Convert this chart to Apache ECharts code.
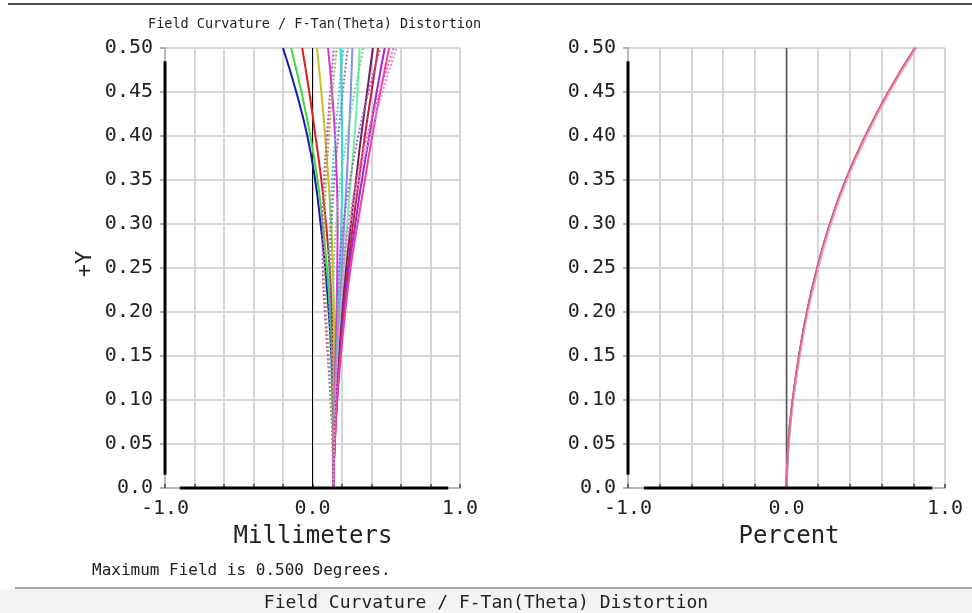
<!DOCTYPE html>
<html><head><meta charset="utf-8">
<script src="https://cdn.jsdelivr.net/npm/echarts@6.0.0/dist/echarts.min.js"></script>
<style>html,body{margin:0;padding:0;background:#fff}#c{width:972px;height:613px}</style>
</head><body><div id="c"></div>
<script>
// ---- data ----
const fieldY = [0, 0.05, 0.10, 0.15, 0.20, 0.25, 0.30, 0.35, 0.40, 0.45, 0.50];
// sagittal (solid) field curvature, mm
const sBlue      = [0.14, 0.140, 0.137, 0.128, 0.110, 0.086, 0.055, 0.018, -0.035, -0.110, -0.200];
const sGreen     = [0.14, 0.141, 0.139, 0.134, 0.120, 0.098, 0.070, 0.034, -0.015, -0.075, -0.145];
const sRed       = [0.14, 0.142, 0.142, 0.139, 0.131, 0.116, 0.092, 0.060, 0.020, -0.022, -0.070];
const sOlive     = [0.14, 0.143, 0.146, 0.147, 0.145, 0.138, 0.126, 0.108, 0.086, 0.060, 0.030];
const sMagenta   = [0.14, 0.145, 0.151, 0.157, 0.163, 0.168, 0.170, 0.165, 0.153, 0.133, 0.105];
const sCyan      = [0.14, 0.146, 0.155, 0.165, 0.175, 0.186, 0.195, 0.200, 0.200, 0.197, 0.190];
const sLavender  = [0.14, 0.147, 0.158, 0.172, 0.186, 0.200, 0.215, 0.232, 0.246, 0.260, 0.270];
const sLtGreen   = [0.14, 0.148, 0.160, 0.176, 0.193, 0.212, 0.235, 0.260, 0.285, 0.305, 0.320];
const sDkPurple  = [0.14, 0.149, 0.163, 0.181, 0.202, 0.228, 0.260, 0.295, 0.330, 0.370, 0.410];
const sCrimson   = [0.14, 0.150, 0.165, 0.185, 0.208, 0.240, 0.275, 0.315, 0.355, 0.400, 0.445];
const sPurpleMag = [0.14, 0.150, 0.166, 0.188, 0.214, 0.248, 0.290, 0.335, 0.385, 0.435, 0.490];
const sPink      = [0.14, 0.151, 0.168, 0.192, 0.222, 0.258, 0.305, 0.355, 0.405, 0.460, 0.520];
// tangential (dotted) field curvature, mm
const tMagenta   = [0.14, 0.135, 0.122, 0.103, 0.083, 0.070, 0.068, 0.078, 0.098, 0.120, 0.145];
const tOlive     = [0.14, 0.136, 0.126, 0.110, 0.093, 0.082, 0.082, 0.092, 0.112, 0.135, 0.165];
const tCyan      = [0.14, 0.138, 0.132, 0.123, 0.115, 0.112, 0.118, 0.132, 0.155, 0.180, 0.210];
const tLavender  = [0.14, 0.139, 0.135, 0.128, 0.122, 0.122, 0.130, 0.148, 0.175, 0.205, 0.240];
const tGreen     = [0.14, 0.141, 0.141, 0.140, 0.140, 0.145, 0.160, 0.190, 0.235, 0.285, 0.345];
const tPurple    = [0.14, 0.143, 0.148, 0.155, 0.165, 0.180, 0.210, 0.255, 0.310, 0.380, 0.460];
const tPink      = [0.14, 0.145, 0.152, 0.163, 0.180, 0.205, 0.245, 0.300, 0.370, 0.455, 0.550];
const tPink2     = [0.14, 0.146, 0.155, 0.168, 0.187, 0.215, 0.255, 0.315, 0.390, 0.475, 0.570];
// F-Tan(Theta) distortion, percent
const distDark  = [0, 0.012, 0.040, 0.080, 0.130, 0.195, 0.275, 0.375, 0.500, 0.645, 0.815];
const distPink  = [0, 0.011, 0.038, 0.078, 0.128, 0.192, 0.272, 0.372, 0.495, 0.640, 0.808];
const distLight = [0, 0.013, 0.042, 0.083, 0.134, 0.200, 0.280, 0.380, 0.505, 0.650, 0.820];
// axes
const xLabelValues = [-1, 0, 1];
const xAxisDarkSpan = [-0.9, 0.92];
const yAxisDarkSpan = [0.015, 0.485];
const zeroLineY = [0, 0.5];

// ---- build ----
const pair = xs => xs.map((x, i) => [x, fieldY[i]]);
const solidSet = [
  [sBlue, '#1a1aa8'], [sGreen, '#3cdc3c'], [sRed, '#d82020'], [sOlive, '#c8c020'],
  [sMagenta, '#d830d8'], [sCyan, '#30d8e0'], [sLavender, '#8a8af0'], [sLtGreen, '#70f0a0'],
  [sDkPurple, '#702060'], [sCrimson, '#c82040'], [sPurpleMag, '#9a28d8'], [sPink, '#f0409a']
];
const dottedSet = [
  [tMagenta, '#c050c0'], [tOlive, '#a8a850'], [tCyan, '#40c8d8'], [tLavender, '#8080a8'],
  [tGreen, '#70d890'], [tPurple, '#a060c8'], [tPink, '#f060a8'], [tPink2, '#e088e0']
];
const series = [];
series.push({type:'line', xAxisIndex:0, yAxisIndex:0, data: zeroLineY.map(y => [0, y]),
  symbol:'none', silent:true, lineStyle:{color:'#000', width:1}, z:1});
series.push({type:'line', xAxisIndex:1, yAxisIndex:1, data: zeroLineY.map(y => [0, y]),
  symbol:'none', silent:true, lineStyle:{color:'#555', width:1.5}, z:1});
solidSet.forEach(([d, c]) => series.push({type:'line', xAxisIndex:0, yAxisIndex:0, data: pair(d),
  smooth:true, symbol:'none', lineStyle:{color:c, width:2}, z:3}));
dottedSet.forEach(([d, c]) => series.push({type:'line', xAxisIndex:0, yAxisIndex:0, data: pair(d),
  smooth:true, symbol:'none', lineStyle:{color:c, width:2, type:[2,2]}, z:4}));
[[distDark, '#505068', 2.4], [distLight, '#f0a8b8', 2.2], [distPink, '#e0607e', 1.6]].forEach(([d, c, w]) =>
  series.push({type:'line', xAxisIndex:1, yAxisIndex:1, data: pair(d), smooth:true, symbol:'none',
  lineStyle:{color:c, width:w}, z:3}));
[0, 1].forEach(k => {
  series.push({type:'line', xAxisIndex:k, yAxisIndex:k, data: xAxisDarkSpan.map(x => [x, 0]),
    symbol:'none', clip:false, silent:true, lineStyle:{color:'#000', width:3}, z:10});
  series.push({type:'line', xAxisIndex:k, yAxisIndex:k, data: yAxisDarkSpan.map(y => [-1, y]),
    symbol:'none', clip:false, silent:true, lineStyle:{color:'#000', width:3}, z:10});
});

const tickFont = {fontFamily:'DejaVu Sans Mono', fontSize:20, color:'#222'};
const mkX = i => ({type:'value', gridIndex:i, min:-1, max:1, interval:0.2,
  axisLine:{show:true, onZero:false, lineStyle:{color:'#b8b8b8', width:2}},
  axisTick:{show:true, inside:true, length:4, lineStyle:{color:'#444', width:1.5}},
  splitLine:{show:true, lineStyle:{color:'#d6d6d6', width:2}},
  axisLabel:Object.assign({margin:11, showMinLabel:true, showMaxLabel:true,
    formatter: v => xLabelValues.some(t => Math.abs(t - v) < 1e-9) ? v.toFixed(1) : ''}, tickFont)});
const mkY = i => ({type:'value', gridIndex:i, min:0, max:0.5, interval:0.05,
  axisLine:{show:true, onZero:false, lineStyle:{color:'#b8b8b8', width:2}},
  axisTick:{show:true, inside:false, length:5, lineStyle:{color:'#999', width:1.5}},
  splitLine:{show:true, lineStyle:{color:'#d6d6d6', width:2}},
  axisLabel:Object.assign({margin:12, showMinLabel:true, showMaxLabel:true,
    formatter: v => Math.abs(v) < 1e-9 ? '0.0' : v.toFixed(2)}, tickFont)});

const txt = (x, y, s, size, align, extra) => ({type:'text', x, y, style:Object.assign({text:s,
  fontFamily:'DejaVu Sans Mono', fontSize:size, fill:'#222', textAlign:align, textVerticalAlign:'middle'}, extra||{})});

const option = {
  animation:false,
  backgroundColor:'#fff',
  grid:[{left:165, top:48, width:295, height:440}, {left:628, top:48, width:317, height:440}],
  xAxis:[mkX(0), mkX(1)],
  yAxis:[mkY(0), mkY(1)],
  series,
  graphic:[
    {type:'rect', shape:{x:0, y:589, width:972, height:24}, style:{fill:'#f3f3f3'}, silent:true},
    {type:'line', shape:{x1:8, y1:4, x2:972, y2:4}, style:{stroke:'#111', lineWidth:1.5}},
    {type:'line', shape:{x1:15, y1:588, x2:972, y2:588}, style:{stroke:'#8a8a8a', lineWidth:1.5}},
    txt(148, 24, 'Field Curvature / F-Tan(Theta) Distortion', 13.5, 'left'),
    txt(313, 537, 'Millimeters', 24, 'center'),
    txt(789, 537, 'Percent', 24, 'center'),
    txt(92, 571, 'Maximum Field is 0.500 Degrees.', 16, 'left'),
    txt(486, 603, 'Field Curvature / F-Tan(Theta) Distortion', 18, 'center'),
    {type:'text', x:85, y:264, rotation:Math.PI/2, style:{text:'+Y', fontFamily:'DejaVu Sans Mono',
      fontSize:22, fill:'#222', textAlign:'center', textVerticalAlign:'middle'}}
  ]
};
const chart = echarts.init(document.getElementById('c'), null, {renderer:'canvas'});
chart.setOption(option);
</script></body></html>
